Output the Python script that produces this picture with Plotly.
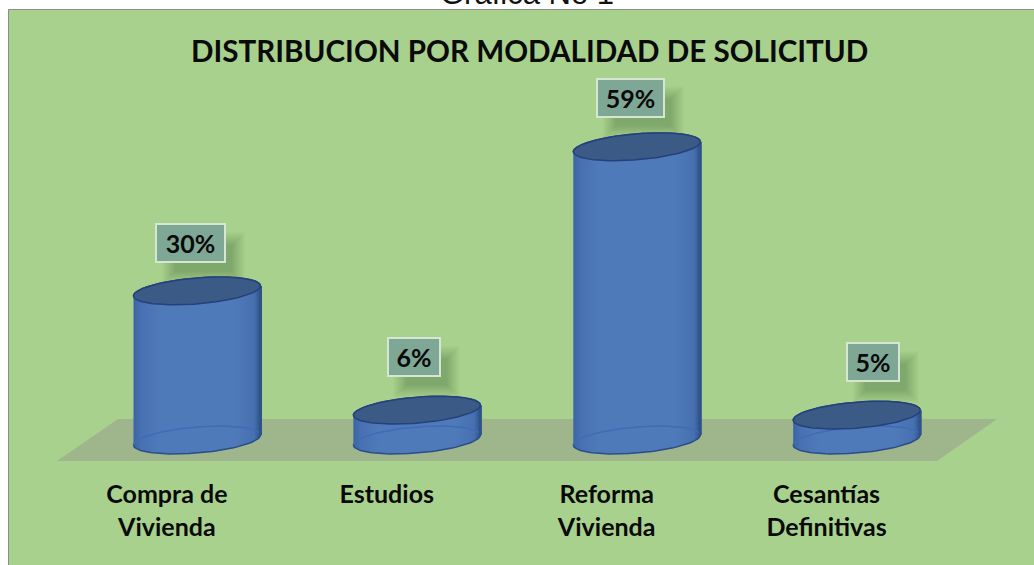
import numpy as np
import plotly.graph_objects as go

title = "DISTRIBUCION POR MODALIDAD DE SOLICITUD"
caption = "Gráfica No 1"
categories = ["<b>Compra de</b><br><b>Vivienda</b>", "<b>Estudios</b>", "<b>Reforma</b><br><b>Vivienda</b>",
              "<b>Cesantías</b><br><b>Definitivas</b>"]
values = [30, 6, 59, 5]
labels = ["30%", "6%", "59%", "5%"]
positions = [0, 1, 2, 3]
label_dx = [-0.03, -0.015, -0.03, 0.073]
label_dy = [9.6, 10.7, 9.9, 10.7]
label_w = [71, 54, 69, 54]

W, H = 1034, 565
PXY = 4.97
PXX = 219.9
X0, Y0 = 197, 440
xr = [-X0 / PXX, (W - X0) / PXX]
yr = [-(H - Y0) / PXY, Y0 / PXY]

FONT = "Lato"
a = 63.5 / PXX
b = 13.0 / PXY
k = 5.0 / PXY


def ex(cx, t):
    return cx + a * np.cos(t)


def ey(cy, t):
    return cy + b * np.sin(t) + k * np.cos(t)


fig = go.Figure()
tl = np.linspace(np.pi, 2 * np.pi, 60)
tu = np.linspace(0, np.pi, 60)
tf = np.linspace(0, 2 * np.pi, 120)
grad = [[0, "#3c64a4"], [0.06, "#4771b2"], [0.2, "#4f7aba"], [0.8, "#4f7aba"], [0.95, "#4670b0"], [1, "#2f5288"]]

for p, v in zip(positions, values):
    xs = np.r_[ex(p, tl), ex(p, tu)]
    ys = np.r_[ey(0, tl), ey(v, tu)]
    fig.add_trace(go.Scatter(x=xs, y=ys, mode="lines", fill="toself",
                             fillgradient=dict(type="horizontal", colorscale=grad),
                             line=dict(color="#2b4c8a", width=1.5), hoverinfo="skip"))
    fig.add_trace(go.Scatter(x=ex(p, tu), y=ey(0, tu), mode="lines",
                             line=dict(color="#3f6cb4", width=1.5), hoverinfo="skip"))
    fig.add_trace(go.Scatter(x=[p + a, p + a], y=[k, v + k], mode="lines",
                             line=dict(color="#2f5288", width=3), hoverinfo="skip"))
    fig.add_trace(go.Scatter(x=ex(p, tf), y=ey(v, tf), mode="lines", fill="toself",
                             fillcolor="#3b5a85", line=dict(color="#24417c", width=1.5),
                             hoverinfo="skip"))

shapes = [
    dict(type="rect", xref="paper", yref="paper", x0=8.5 / W, x1=1.01, y0=-0.01, y1=1 - 9.5 / H,
         fillcolor="#a9d18e", line=dict(color="#8c8c8c", width=1), layer="below"),
    dict(type="path", xref="x", yref="y", layer="below", fillcolor="#9fb58b", line=dict(width=0),
         path="M %f %f L %f %f L %f %f L %f %f Z" % (
             (57 - X0) / PXX, -21 / PXY, (118 - X0) / PXX, 21 / PXY,
             (997 - X0) / PXX, 21 / PXY, (937 - X0) / PXX, -21 / PXY)),
]
for p, v, dx, dy, w in zip(positions, values, label_dx, label_dy, label_w):
    for inset in range(0, 14):
        shapes.append(dict(type="rect", layer="below", xref="x", yref="y",
                           xsizemode="pixel", ysizemode="pixel",
                           xanchor=p + dx, yanchor=v + dy,
                           x0=-w / 2 + 13 + inset - 6, x1=w / 2 + 13 - inset + 6,
                           y0=-20 - 15 - 6 + inset, y1=20 - 15 + 6 - inset,
                           fillcolor="rgba(50,70,40,0.022)", line=dict(width=0)))
fig.update_layout(shapes=shapes)

for p, v, dx, dy, w, t in zip(positions, values, label_dx, label_dy, label_w, labels):
    fig.add_annotation(x=p + dx, y=v + dy, xref="x", yref="y", text="<b>%s</b>" % t, showarrow=False,
                       width=w - 6, height=34, bgcolor="#7fa796", bordercolor="#d6e6d2", borderwidth=2,
                       borderpad=1, font=dict(family=FONT, size=25, color="#0a0a0a"))

fig.add_annotation(x=529 / W, y=1 - 50 / H, xref="paper", yref="paper", yanchor="middle", text="<b>%s</b>" % title,
                   showarrow=False, font=dict(family=FONT, size=29.6, color="#0a0a0a"))
fig.add_annotation(x=527 / W, y=1 + 7 / H, xref="paper", yref="paper", yanchor="middle", text=caption, showarrow=False,
                   font=dict(family="Liberation Sans", size=31, color="#111111"))

fig.update_layout(
    width=W, height=H, margin=dict(l=0, r=0, t=0, b=0), showlegend=False,
    paper_bgcolor="white", plot_bgcolor="rgba(0,0,0,0)",
    xaxis=dict(range=xr, domain=[0, 1], anchor="free", position=(H - 477) / H,
               tickvals=[p - 0.137 for p in positions], ticktext=categories,
               tickfont=dict(family=FONT, size=25, color="#0a0a0a"), ticks="", showgrid=False,
               zeroline=False, showline=False, tickangle=0),
    yaxis=dict(range=yr, domain=[0, 1], visible=False, showgrid=False, zeroline=False),
)
fig.write_html("out.html", config={"displayModeBar": False},
               post_script="document.body.style.margin='0';document.documentElement.style.overflow='hidden';")
